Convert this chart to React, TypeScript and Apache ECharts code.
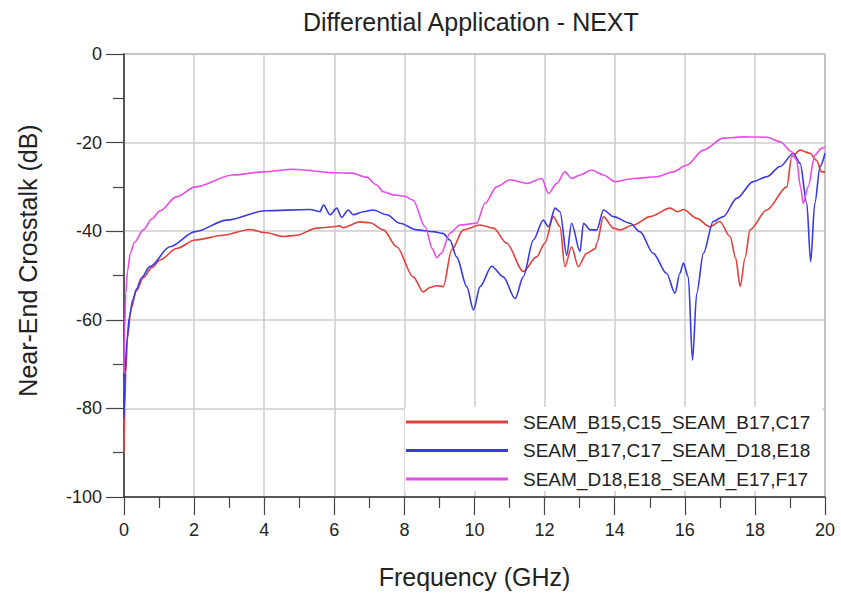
import React, { useEffect, useRef } from "react";
import * as echarts from "echarts";

const titleText = "Differential Application - NEXT";
const xName = "Frequency (GHz)";
const yName = "Near-End Crosstalk (dB)";
const seriesNames = [
  "SEAM_B15,C15_SEAM_B17,C17",
  "SEAM_B17,C17_SEAM_D18,E18",
  "SEAM_D18,E18_SEAM_E17,F17",
];
const seriesColors = ["#e2403a", "#3a3ae0", "#e64ce6"];

const redFreq = [0, 0.02, 0.05, 0.1, 0.2, 0.35, 0.55, 0.8, 1.03, 1.5, 2.03, 2.83, 3.59, 4.02, 4.55, 4.93, 5.5, 5.97, 6.16, 6.25, 6.73, 7.02, 7.4, 7.78, 8.25, 8.54, 8.73, 8.92, 9.11, 9.35, 9.68, 10.16, 10.54, 10.92, 11.39, 11.77, 12.01, 12.25, 12.44, 12.58, 12.77, 12.96, 13.2, 13.44, 13.49, 13.68, 13.96, 14.15, 14.53, 15.01, 15.58, 15.8, 15.96, 16.34, 16.72, 17.0, 17.29, 17.45, 17.58, 17.72, 17.86, 18.34, 18.91, 19.05, 19.29, 19.57, 19.76, 19.9, 20];
const redDb = [-90, -80, -72, -64, -57.5, -53.5, -50.5, -48.2, -46.5, -43.9, -42, -40.9, -39.6, -40.3, -41.2, -40.9, -39.3, -39, -38.8, -39.2, -37.9, -38.1, -39.7, -43.5, -50.3, -53.7, -52.7, -52.3, -52.5, -44.2, -39.7, -38.6, -39.3, -42.7, -49.1, -45.8, -42.7, -36.7, -39, -48, -43.5, -48, -45, -44, -42.7, -36.7, -39.3, -39.7, -38.6, -36.7, -34.8, -35.6, -35.1, -37.1, -39, -37.8, -41.2, -46, -52.5, -46, -39.7, -35.2, -30, -23.2, -21.7, -22.4, -24, -26.6, -26.6];

const blueFreq = [0, 0.03, 0.08, 0.15, 0.25, 0.36, 0.5, 0.74, 1.31, 2.03, 2.93, 4.02, 5.31, 5.59, 5.69, 5.88, 6.07, 6.21, 6.4, 6.54, 6.83, 7.11, 7.5, 7.87, 8.35, 8.82, 9.1, 9.3, 9.49, 9.78, 9.97, 10.16, 10.49, 10.82, 11.16, 11.39, 11.68, 11.96, 12.11, 12.3, 12.44, 12.63, 12.77, 13.01, 13.11, 13.3, 13.49, 13.68, 13.96, 14.44, 14.72, 15.1, 15.48, 15.72, 15.86, 15.96, 16.1, 16.22, 16.34, 16.53, 16.81, 17.1, 17.48, 17.95, 18.34, 18.72, 19.1, 19.29, 19.48, 19.59, 19.71, 19.86, 20];
const blueDb = [-82, -72, -65, -59.5, -55.5, -53, -50.5, -48, -43.5, -40.1, -37.5, -35.4, -35.1, -35.6, -34.1, -36.3, -34.8, -36.9, -35.2, -36.3, -35.6, -35.2, -36.3, -38.2, -39.7, -40.1, -40.5, -42, -45.8, -52.5, -57.8, -52.5, -47.9, -50.3, -55.2, -50.3, -42, -37.5, -39, -34.8, -35.6, -45.4, -38.2, -44.6, -38.2, -39.7, -39.7, -35.2, -36.7, -38.2, -40.1, -45, -49.5, -54, -49.5, -47.2, -50.3, -69.1, -54, -45, -37.8, -36.7, -32.6, -28.8, -27.7, -25.4, -22.4, -24.7, -33.7, -46.9, -33.7, -25.4, -22.4];

const magFreq = [0, 0.02, 0.05, 0.1, 0.18, 0.3, 0.55, 0.8, 1.03, 1.5, 2.03, 3.1, 4.0, 4.83, 6.0, 6.5, 6.92, 7.2, 7.4, 7.68, 8.0, 8.25, 8.59, 8.8, 8.92, 9.05, 9.3, 9.59, 10.06, 10.3, 10.63, 11.01, 11.49, 11.92, 12.11, 12.35, 12.58, 12.77, 13.01, 13.34, 13.68, 14.01, 14.53, 15.2, 15.67, 16.05, 16.53, 17.1, 17.67, 18.34, 18.72, 19.05, 19.19, 19.3, 19.38, 19.52, 19.71, 19.9, 20];
const magDb = [-72, -62, -54, -49, -45, -42.5, -39.7, -37.2, -35.4, -32.2, -30, -27.3, -26.6, -26, -26.8, -26.9, -27.8, -29.5, -31.1, -31.8, -32.1, -33, -39, -44, -46, -45, -40.4, -38.6, -38.2, -33.7, -30, -28.4, -29.2, -28.1, -31.5, -29.2, -26.6, -28.1, -27.3, -26.2, -27.3, -28.8, -28.1, -27.7, -26.6, -25.1, -21.7, -19, -18.7, -18.8, -19.8, -22.1, -23.9, -30, -33.7, -30, -22.8, -21.3, -21];

const xMin = 0, xMax = 20, xStep = 2;
const yMin = -100, yMax = 0, yStep = 20;

const pair = (xs: number[], ys: number[]) => xs.map((x, i) => [x, ys[i]]);

export default function App() {
  const ref = useRef<HTMLDivElement>(null);
  useEffect(() => {
    if (!ref.current) return;
    const chart = echarts.init(ref.current, undefined, { renderer: "svg" });
    const font = "'Liberation Sans', Arial, sans-serif";
    const axisCommon = {
      axisLine: { show: true, onZero: false, lineStyle: { color: "#333", width: 1.5 } },
      axisTick: { show: true, inside: false, length: 18, lineStyle: { color: "#444", width: 1.2 } },
      minorTick: { show: true, splitNumber: 2, length: 11, lineStyle: { color: "#444", width: 1.2 } },
      splitLine: { show: true, lineStyle: { color: "#cdcdcd", width: 1.5 } },
      nameLocation: "middle" as const,
    };
    const datasets = [pair(redFreq, redDb), pair(blueFreq, blueDb), pair(magFreq, magDb)];
    chart.setOption({
      animation: false,
      backgroundColor: "#fff",
      title: {
        text: titleText,
        left: 298,
        top: 4,
        textStyle: { fontSize: 25, fontWeight: "normal", color: "#222", fontFamily: font },
      },
      grid: { left: 124, top: 54, width: 701, height: 443, show: true, borderColor: "#666", borderWidth: 1.2 },
      xAxis: {
        type: "value",
        min: xMin,
        max: xMax,
        interval: xStep,
        name: xName,
        nameGap: 67,
        ...axisCommon,
        nameTextStyle: { fontSize: 25, color: "#222", fontFamily: font },
        axisLabel: { fontSize: 18, color: "#222", margin: 24, fontFamily: font },
      },
      yAxis: {
        type: "value",
        min: yMin,
        max: yMax,
        interval: yStep,
        name: yName,
        nameGap: 84,
        ...axisCommon,
        nameTextStyle: { fontSize: 25, color: "#222", fontFamily: font, padding: [0, 0, 0, 30] },
        axisLabel: { fontSize: 18, color: "#222", margin: 22, fontFamily: font },
      },
      legend: {
        orient: "vertical",
        left: 405,
        top: 407,
        backgroundColor: "#fff",
        padding: [5, 12, 2, 1],
        itemWidth: 102,
        itemHeight: 3,
        itemGap: 8.5,
        icon: "rect",
        textStyle: { fontSize: 19, lineHeight: 20, color: "#222", fontFamily: font, padding: [0, 0, 0, 10] },
        data: seriesNames,
      },
      series: datasets.map((d, i) => ({
        name: seriesNames[i],
        type: "line",
        data: d,
        showSymbol: false,
        smooth: 0.3,
        smoothMonotone: "x",
        color: seriesColors[i],
        lineStyle: { width: 1.6, color: seriesColors[i] },
      })),
    });
    return () => chart.dispose();
  }, []);
  return <div ref={ref} style={{ position: "fixed", left: 0, top: 0, width: 841, height: 596 }} />;
}
